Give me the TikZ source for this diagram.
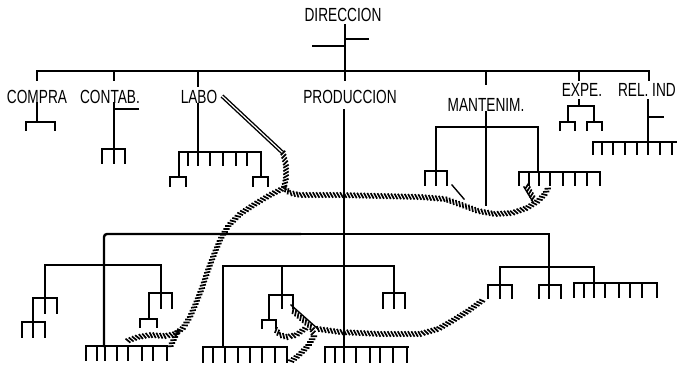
\documentclass[tikz,border=0pt]{standalone}
\usepackage{fontspec}
\setmainfont{Liberation Sans}[FakeStretch=0.72]
\usetikzlibrary{decorations.markings}
\newcommand\mycomb[5]{% y, ybot, x1, x2, teeth
  \draw[ln] (#3,#1) -- (#4,#1);
  \foreach \t in {#5} {\draw[ln] (\t,#1) -- (\t,#2);}
}
\tikzset{
  ln/.style={line width=2.4pt, line cap=rect},
  thinln/.style={line width=1.4pt, line cap=rect},
  lbl/.style={inner sep=0pt, font=\fontsize{19}{22}\selectfont},
  hatch/.style={decorate, decoration={markings,
    mark=between positions 0 and 1 step 3.4pt with {\draw[line width=1.7pt] (-1.6pt,2.7pt) -- (1.6pt,-2.7pt);}}},
  tube/.style={draw, double=white, double distance=1.2pt, line width=1.4pt},
}
\begin{document}
\begin{tikzpicture}[x=1pt,y=-1pt]
\useasboundingbox (0,0) rectangle (677,367);
% labels
\node[lbl] (dir) at (343,15) {DIRECCION};
\node[lbl] (compra) at (37,97) {COMPRA};
\node[lbl] (contab) at (110,97) {CONTAB.};
\node[lbl] (labo) at (199,97) {LABO};
\node[lbl] (prod) at (350,97) {PRODUCCION};
\node[lbl] (mant) at (486,105) {MANTENIM.};
\node[lbl] (expe) at (582,90) {EXPE.};
\node[lbl,anchor=east] (rel) at (676,90) {REL. IND};
% direccion
\draw[ln] (345,25) -- (345,80);
\draw[ln] (313,46) -- (345,46);
\draw[ln] (345,39) -- (368,39);
% top bar and drops
\draw[ln] (37,80) -- (37,71) -- (649,71) -- (649,80);
\draw[ln] (114,71) -- (114,80);
\draw[thinln] (198,71) -- (198,86);
\draw[ln] (486,71) -- (486,84);
\draw[ln] (579,71) -- (579,80);
% compra
\draw[ln] (37,103) -- (37,122);
\mycomb{122}{130}{26}{55}{26,55}
% contab
\draw[ln] (114,103) -- (114,163);
\draw[ln] (114,109) -- (138,109);
\mycomb{149}{163}{102}{125}{102,114,125}
% labo
\draw[thinln] (198,104) -- (198,152);
\mycomb{152}{165}{179}{261}{188,198,210,223,236,247}
\draw[ln] (179,152) -- (179,177); \draw[ln] (261,152) -- (261,177);
\mycomb{177}{186}{170}{186}{170,186}
\mycomb{177}{186}{253}{268}{253,268}
% produccion
\draw[ln] (344,110) -- (344,347);
% mantenim
\draw[ln] (486,112) -- (486,205);
\draw[ln] (436,171) -- (436,127) -- (538,127) -- (538,172);
\mycomb{171}{185}{425}{447}{425,436,447}
\mycomb{172}{185}{519}{600}{519,529,539,550,563,575,587,600}
% expe
\draw[ln] (579,100) -- (579,106);
\draw[ln] (568,122) -- (568,106) -- (594,106) -- (594,122);
\mycomb{122}{130}{560}{575}{560,575}
\mycomb{122}{130}{587}{602}{587,602}
% rel ind
\draw[ln] (648,100) -- (648,142);
\draw[ln] (648,117) -- (663,117);
\mycomb{142}{154}{593}{676}{593,602,613,625,637,648,660,672}
% lower structure
\draw[ln, rounded corners=3pt] (104,346) -- (104,234) -- (300,234);
\draw[ln] (300,234) -- (549,234) -- (549,285);
% lower left
\draw[ln] (45,298) -- (45,265) -- (161,265) -- (161,293);
\mycomb{298}{313}{33}{57}{33,45,57}
\draw[ln] (33,313) -- (33,322);
\mycomb{322}{337}{22}{45}{22,33,45}
\mycomb{293}{308}{149}{172}{149,161,172}
\draw[ln] (149,308) -- (149,319);
\mycomb{319}{327}{140}{157}{140,157}
\mycomb{346}{360}{86}{167}{86,97,105,117,128,142,153,167}
% lower middle
\draw[ln] (223,347) -- (223,266) -- (394,266) -- (394,293);
\draw[ln] (282,266) -- (282,295);
\mycomb{295}{308}{269}{293}{269,282,293}
\draw[ln] (269,308) -- (269,320);
\mycomb{320}{328}{262}{276}{262,276}
\mycomb{293}{308}{383}{405}{383,394,405}
\mycomb{347}{362}{203}{287}{203,213,225,238,250,262,275,287}
\mycomb{347}{362}{325}{408}{325,335,344,356,370,380,393,407}
% lower right
\draw[ln] (500,285) -- (500,267) -- (594,267) -- (594,283);
\mycomb{285}{298}{488}{512}{488,500,512}
\mycomb{285}{298}{539}{561}{539,549,561}
\mycomb{283}{297}{574}{657}{574,584,594,605,619,630,642,657}
% cable paths
\coordinate (l0) at (222,96);
\coordinate (l1) at (283,153);
\coordinate (l2) at (284,188);
\path[tube] (l0) -- (l1);
\path[hatch] (l1) -- (286,165) -- (286,178) -- (l2) -- (290,193) -- (300,195) -- (340,195) -- (380,196) -- (420,197) -- (445,199) -- (462,205) -- (478,211) -- (495,214) -- (512,213) -- (527,208) -- (538,201) -- (545,194) -- (548,188);
\path[hatch] (l2) -- (270,195) -- (255,204) -- (240,214) -- (229,225) -- (221,238) -- (215,252) -- (208,270) -- (202,288) -- (196,303) -- (190,317) -- (183,328) -- (175,334) -- (165,336) -- (150,335) -- (138,337) -- (127,341);
\path[hatch] (178,331) -- (170,347);
\draw[thinln] (452,185) -- (464,199);
\draw[thinln] (524,187) -- (533,202);
\path[hatch] (527,186) -- (534,200);
\draw[thinln] (291,305) -- (318,329);
\path[hatch] (293,311) -- (312,328) -- (314,336) -- (308,346) -- (299,355) -- (290,362);
\path[hatch] (276,330) -- (280,335) -- (287,337) -- (296,335) -- (306,328);
\path[hatch] (318,329) -- (340,332) -- (380,334) -- (420,334) -- (438,329) -- (452,321) -- (468,311) -- (483,300);
\end{tikzpicture}
\end{document}
